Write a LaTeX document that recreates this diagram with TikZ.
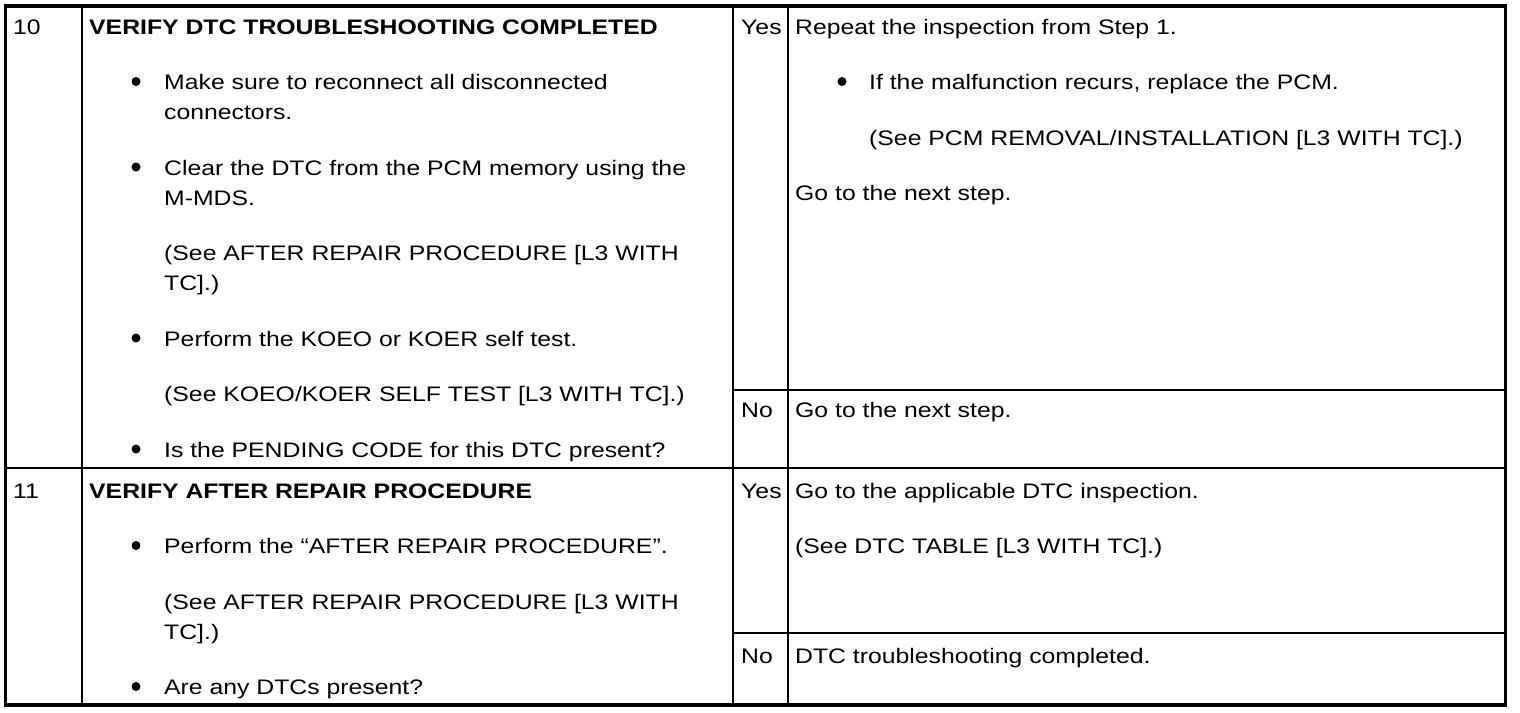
\documentclass[tikz,border=0pt]{standalone}
\usepackage{fontspec}
\setmainfont{Liberation Sans}[FakeStretch=1.18]
\begin{document}
\begin{tikzpicture}[x=1pt, y=-1pt,
    txt/.style={anchor=base west, inner sep=0pt, font=\fontsize{21}{29}\selectfont},
    hd/.style={txt, font=\fontsize{21}{29}\selectfont\bfseries}]
      \useasboundingbox (0,0) rectangle (1520,712);
      \draw [line width=3.5pt] (5.5,6) rectangle (1505.5,705);
      \draw [line width=1.2pt] (82,6) -- (82,705);
      \draw [line width=2pt] (733,6) -- (733,705);
      \draw [line width=2pt] (788,6) -- (788,705);
      \draw [line width=2pt] (5.5,468) -- (1505.5,468);
      \draw [line width=2pt] (733,390) -- (1505.5,390);
      \draw [line width=2pt] (733,633) -- (1505.5,633);
      % step 10
      \node [txt] (num10) at (13,34) {10};
      \node [hd] (title10) at (89,34) {VERIFY DTC TROUBLESHOOTING COMPLETED};
      \node [txt] (reconn) at (164,89.5) {Make sure to reconnect all disconnected};
      \node [txt] (reconn2) at (164,119.5) {connectors.};
      \node [txt] (clear) at (164,175) {Clear the DTC from the PCM memory using the};
      \node [txt] (clear2) at (164,205) {M-MDS.};
      \node [txt] (afterref) at (164,260.5) {(See AFTER REPAIR PROCEDURE [L3 WITH};
      \node [txt] (afterref2) at (164,290.5) {TC].)};
      \node [txt] (koeo) at (164,346) {Perform the KOEO or KOER self test.};
      \node [txt] (koeoref) at (164,401.5) {(See KOEO/KOER SELF TEST [L3 WITH TC].)};
      \node [txt] (pending) at (164,457) {Is the PENDING CODE for this DTC present?};
      \foreach \y in {89.5, 175, 346, 457}{
        \fill (136,\y-8) circle [radius = 4.5];
      }
      \node [txt] (yes10) at (741,34) {Yes};
      \node [txt] (repeat) at (795,34) {Repeat the inspection from Step 1.};
      \node [txt] (recur) at (869,89.5) {If the malfunction recurs, replace the PCM.};
      \fill (842,81.5) circle [radius = 4.5];
      \node [txt] (pcmref) at (869,145) {(See PCM REMOVAL/INSTALLATION [L3 WITH TC].)};
      \node [txt] (next10a) at (795,200.5) {Go to the next step.};
      \node [txt] (no10) at (741,417) {No};
      \node [txt] (next10b) at (795,417) {Go to the next step.};
      % step 11
      \node [txt] (num11) at (13,498) {11};
      \node [hd] (title11) at (89,498) {VERIFY AFTER REPAIR PROCEDURE};
      \node [txt] (perform) at (164,553.5) {Perform the “AFTER REPAIR PROCEDURE”.};
      \node [txt] (performref) at (164,609) {(See AFTER REPAIR PROCEDURE [L3 WITH};
      \node [txt] (performref2) at (164,639) {TC].)};
      \node [txt] (anydtc) at (164,694.5) {Are any DTCs present?};
      \foreach \y in {553.5, 694.5}{
        \fill (136,\y-8) circle [radius = 4.5];
      }
      \node [txt] (yes11) at (741,498) {Yes};
      \node [txt] (applic) at (795,498) {Go to the applicable DTC inspection.};
      \node [txt] (tableref) at (795,553.5) {(See DTC TABLE [L3 WITH TC].)};
      \node [txt] (no11) at (741,663) {No};
      \node [txt] (done) at (795,663) {DTC troubleshooting completed.};
    \end{tikzpicture}
\end{document}
